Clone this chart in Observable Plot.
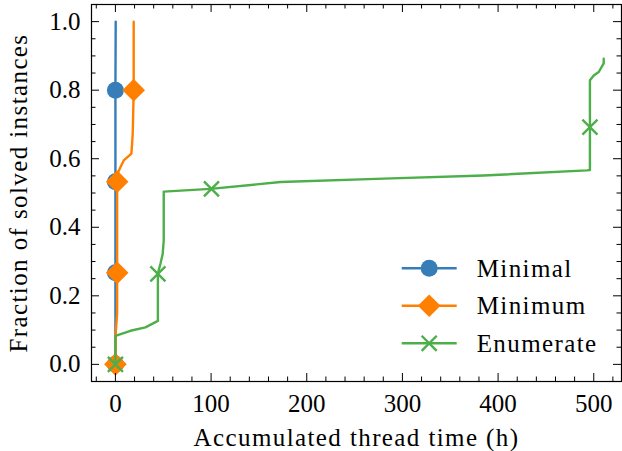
<!DOCTYPE html>
<html><head><meta charset="utf-8">
<script src="https://cdn.jsdelivr.net/npm/d3@7"></script>
<script src="https://cdn.jsdelivr.net/npm/@observablehq/plot@0.6"></script>
<style>
html,body{margin:0;padding:0;background:#fff;}
#wrap{position:relative;width:622px;height:451px;}
g[aria-label="x-axis label"] text, g[aria-label="y-axis label"] text{letter-spacing:1.4px;}
</style></head><body><div id="wrap"></div>
<script>
// ---- data ----
const seriesNames = ["Minimal", "Minimum", "Enumerate"];
const seriesColors = ["#377eb8", "#ff7f00", "#4daf4a"];
const seriesSymbols = ["circle", "diamond2", "times"];

const minimalX = [0, 0, 0, 0, 0.3];
const minimalY = [0, 0.267, 0.533, 0.8, 1.0];
const minimalMarkX = [0, 0, 0, 0];
const minimalMarkY = [0, 0.267, 0.533, 0.8];

const minimumX = [0, 0.3, 1.8, 1.8, 2.0, 5.2, 8.7, 16.7, 18.1, 19.1, 19.1];
const minimumY = [0, 0.09, 0.15, 0.533, 0.555, 0.575, 0.595, 0.615, 0.673, 0.8, 1.0];
const minimumMarkX = [0, 1.8, 1.8, 19.1];
const minimumMarkY = [0, 0.267, 0.533, 0.8];

const enumerateX = [0, 0, 15.7, 31.4, 44.4, 44.4, 47, 49.4, 50.5, 50.5, 99.3, 172.5, 280.5, 385, 493, 496, 496, 500, 505.2, 510.4, 510.4];
const enumerateY = [0, 0.083, 0.098, 0.108, 0.127, 0.265, 0.293, 0.322, 0.361, 0.504, 0.512, 0.532, 0.542, 0.551, 0.566, 0.567, 0.829, 0.843, 0.853, 0.878, 0.892];
const enumerateMarkX = [0, 44.4, 100.4, 496];
const enumerateMarkY = [0, 0.264, 0.512, 0.692];

const xTicks = [0, 100, 200, 300, 400, 500];
const xMinor = [-20, 20, 40, 60, 80, 120, 140, 160, 180, 220, 240, 260, 280, 320, 340, 360, 380, 420, 440, 460, 480, 520];
const yTicks = [0, 0.2, 0.4, 0.6, 0.8, 1.0];
const yMinor = [0.05, 0.1, 0.15, 0.25, 0.3, 0.35, 0.45, 0.5, 0.55, 0.65, 0.7, 0.75, 0.85, 0.9, 0.95];

// ---- layout ----
const W = 622, H = 451, mL = 91, mR = 1, mT = 4, mB = 70;
const innerW = W - mL - mR, innerH = H - mT - mB;
const majorLen = 8, minorLen = 4.5;
const lineW = 2.4;
const rows = (xs, ys) => xs.map((x, i) => ({x, y: ys[i]}));
const sizes = {circle: 8.5, diamond2: 10.2, times: 6.9};

const seriesData = [
  [rows(minimalX, minimalY), rows(minimalMarkX, minimalMarkY)],
  [rows(minimumX, minimumY), rows(minimumMarkX, minimumMarkY)],
  [rows(enumerateX, enumerateY), rows(enumerateMarkX, enumerateMarkY)]
];

const seriesMarks = seriesData.flatMap(([line, marks], i) => {
  const sym = seriesSymbols[i];
  const dotOpts = sym === "times"
    ? {x: "x", y: "y", symbol: sym, r: sizes[sym], stroke: seriesColors[i], strokeWidth: 2.4, fill: "none"}
    : {x: "x", y: "y", symbol: sym, r: sizes[sym], fill: seriesColors[i], stroke: "none"};
  return [
    Plot.line(line, {x: "x", y: "y", stroke: seriesColors[i], strokeWidth: lineW, curve: "linear"}),
    Plot.dot(marks, dotOpts)
  ];
});

const tickStyle = {stroke: "#000", strokeWidth: 1};
const plot = Plot.plot({
  width: W, height: H,
  marginLeft: mL, marginRight: mR, marginTop: mT, marginBottom: mB,
  style: {fontFamily: "'Liberation Serif', serif", fontSize: "25px", color: "#000", background: "#fff", overflow: "visible"},
  x: {domain: [-25, 529]},
  y: {domain: [-0.05, 1.05]},
  marks: [
    ...seriesMarks,
    Plot.tickX(xTicks, {x: d => d, insetTop: innerH - majorLen, ...tickStyle}),
    Plot.tickX(xTicks, {x: d => d, insetBottom: innerH - majorLen, ...tickStyle}),
    Plot.tickX(xMinor, {x: d => d, insetTop: innerH - minorLen, ...tickStyle}),
    Plot.tickX(xMinor, {x: d => d, insetBottom: innerH - minorLen, ...tickStyle}),
    Plot.tickY(yTicks, {y: d => d, insetRight: innerW - majorLen, ...tickStyle}),
    Plot.tickY(yTicks, {y: d => d, insetLeft: innerW - majorLen, ...tickStyle}),
    Plot.tickY(yMinor, {y: d => d, insetRight: innerW - minorLen, ...tickStyle}),
    Plot.tickY(yMinor, {y: d => d, insetLeft: innerW - minorLen, ...tickStyle}),
    Plot.frame({stroke: "#000", strokeWidth: 1.2}),
    Plot.axisX(xTicks, {tickSize: 0, tickPadding: 13, fontSize: 25,
      label: "Accumulated thread time (h)", labelAnchor: "center", labelOffset: 64, labelArrow: "none"}),
    Plot.axisY(yTicks, {tickSize: 0, tickPadding: 11, fontSize: 25, tickFormat: d3.format(".1f"),
      label: "Fraction of solved instances", labelAnchor: "center", labelOffset: 82, labelArrow: "none"})
  ]
});
document.getElementById("wrap").appendChild(plot);

// ---- legend (inside plot, lower right) ----
const legendLeft = 401.7, legendLineLen = 55, legendTextGap = 20, legendTop = 268.3, legendStep = 37.5;
const lg = d3.select("#wrap").append("svg")
  .attr("width", W).attr("height", H)
  .style("position", "absolute").style("left", "0px").style("top", "0px")
  .style("font-family", "'Liberation Serif', serif").style("font-size", "25px");
const symMap = {circle: d3.symbolCircle, diamond2: d3.symbolDiamond2, times: d3.symbolTimes};
seriesNames.forEach((name, i) => {
  const y = legendTop + i * legendStep;
  const g = lg.append("g");
  g.append("line").attr("x1", legendLeft).attr("x2", legendLeft + legendLineLen)
    .attr("y1", y).attr("y2", y).attr("stroke", seriesColors[i]).attr("stroke-width", lineW);
  const sym = seriesSymbols[i];
  const r = sizes[sym];
  const p = g.append("path")
    .attr("d", d3.symbol(symMap[sym], Math.PI * r * r)())
    .attr("transform", `translate(${legendLeft + legendLineLen / 2},${y})`);
  if (sym === "times") p.attr("fill", "none").attr("stroke", seriesColors[i]).attr("stroke-width", 2.4);
  else p.attr("fill", seriesColors[i]);
  g.append("text").attr("x", legendLeft + legendLineLen + legendTextGap).attr("y", y)
    .attr("dy", "0.34em").attr("fill", "#000").style("letter-spacing", "1.4px").text(name);
});
</script></body></html>
